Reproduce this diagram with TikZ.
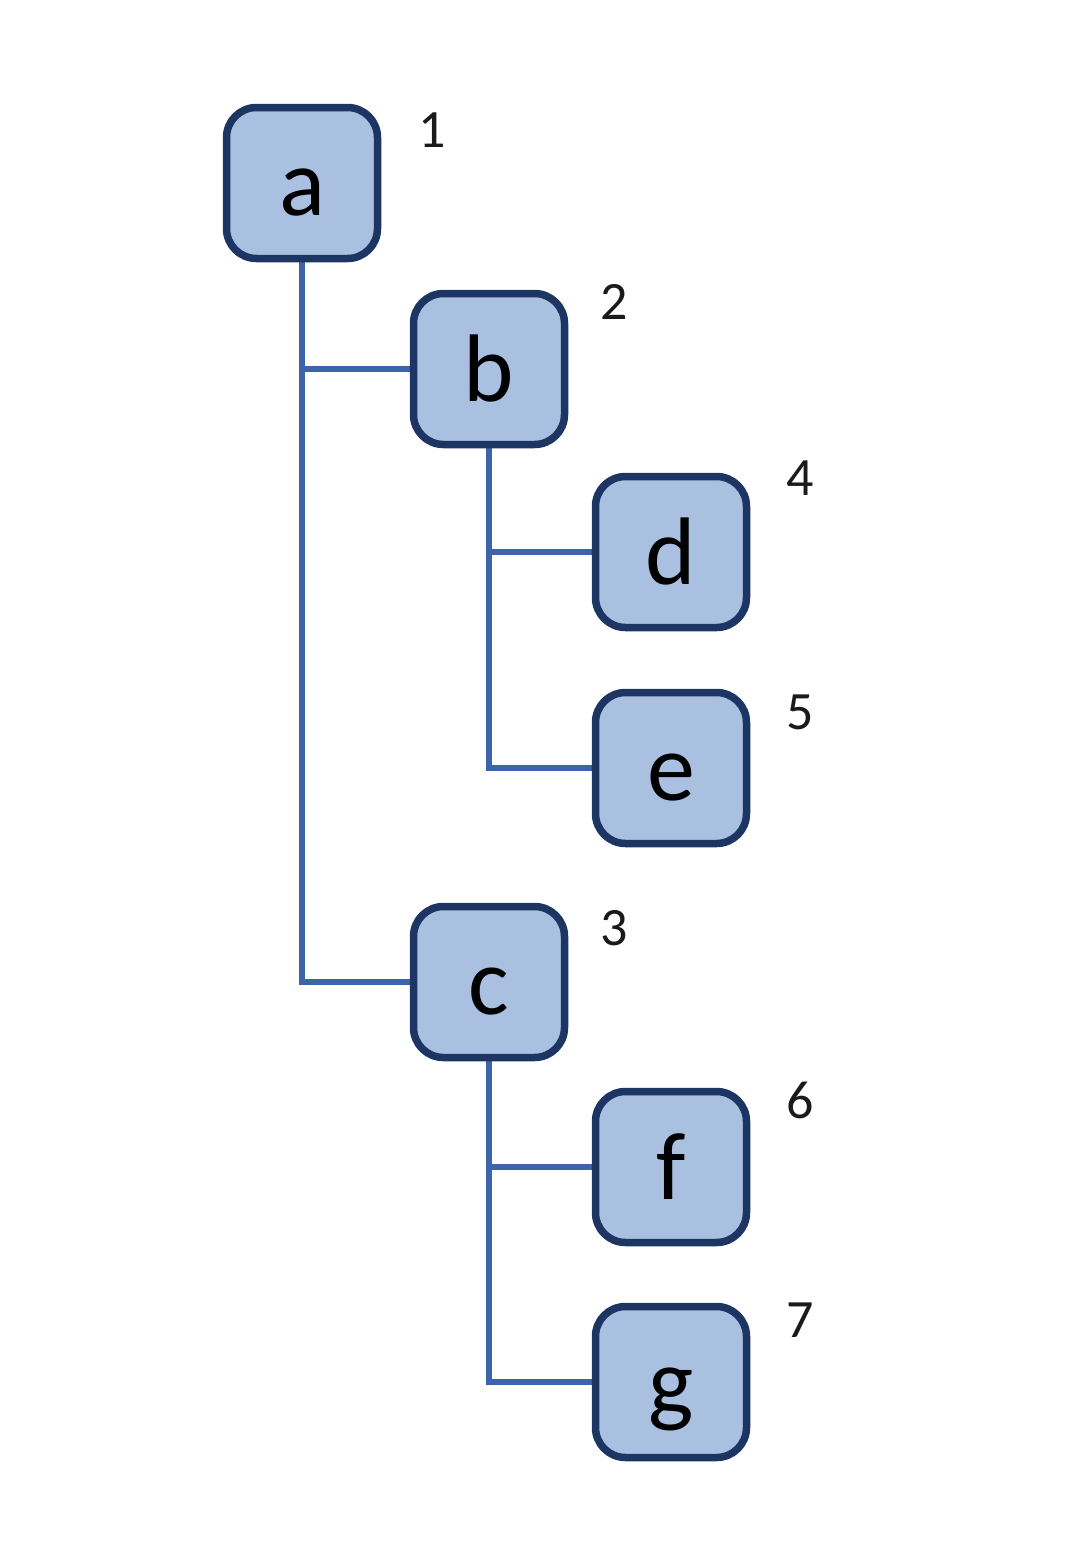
\documentclass[tikz,border=0pt]{standalone}
\usepackage{fontspec}
\setmainfont{Carlito}
\usetikzlibrary{backgrounds}
\definecolor{boxfill}{HTML}{AAC0E0}
\definecolor{boxline}{HTML}{1C3563}
\definecolor{linkline}{HTML}{3B64AA}
\definecolor{numtext}{HTML}{1A1A1A}
\begin{document}
\begin{tikzpicture}[x=1pt,y=-1pt,
  treebox/.style={draw=boxline, fill=boxfill, line width=7.5pt, rounded corners=30pt,
    minimum width=151pt, minimum height=151pt, inner sep=0pt,
    text height=64pt, text depth=0pt,
    font=\fontsize{96}{100}\selectfont, text=black},
  ordnum/.style={font=\fontsize{54}{60}\selectfont, text=numtext, inner sep=0pt},
  link/.style={draw=linkline, line width=6.5pt}]
  \useasboundingbox (0,0) rectangle (1088,1558);

  % boxes
  \node[treebox] (a) at (302,183) {a};
  \node[treebox] (b) at (489,369) {b};
  \node[treebox] (d) at (671,552) {d};
  \node[treebox] (e) at (671,768) {e};
  \node[treebox] (c) at (489,982) {c};
  \node[treebox] (f) at (671,1167) {f};
  \node[treebox] (g) at (671,1382) {g};

  % tree links, kept behind the boxes
  \begin{scope}[on background layer]
    \draw[link] (a.south) |- (c.west);
    \draw[link] (a.south |- b.west) -- (b.west);
    \draw[link] (b.south) |- (e.west);
    \draw[link] (b.south |- d.west) -- (d.west);
    \draw[link] (c.south) |- (g.west);
    \draw[link] (c.south |- f.west) -- (f.west);
  \end{scope}

  % visit order
  \node[ordnum] (n1) at (432,130) {1};
  \node[ordnum] (n2) at (614,302) {2};
  \node[ordnum] (n4) at (800,478) {4};
  \node[ordnum] (n5) at (800,712) {5};
  \node[ordnum] (n3) at (614,928) {3};
  \node[ordnum] (n6) at (800,1100) {6};
  \node[ordnum] (n7) at (800,1320) {7};
\end{tikzpicture}
\end{document}
